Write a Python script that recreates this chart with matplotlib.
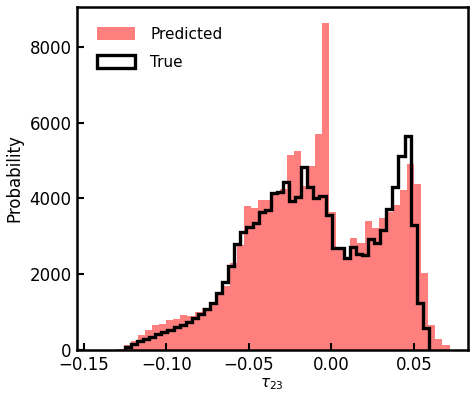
import numpy as np
import matplotlib
matplotlib.use('Agg')
import matplotlib.pyplot as plt

# predicted histogram: 47 bins from -0.130 to 0.0715
pred_range = (-0.1300, 0.0715)
pred_counts = [30, 140, 240, 396, 528, 660, 690, 790, 810, 920,
               900, 1000, 1100, 1250, 1450, 1680, 2290, 2780, 3800, 3750,
               3950, 3960, 4150, 4250, 5150, 5250, 4340, 4860, 5700, 8630,
               3650, 2650, 2400, 2950, 2830, 3400, 3230, 3480, 3650, 3830,
               4220, 4910, 4370, 2025, 660, 290, 140]

# true histogram: 50 bins from -0.125 to 0.059
true_range = (-0.1250, 0.0590)
true_counts = [80, 158, 230, 290, 343, 414, 475, 528, 610, 660,
               730, 836, 941, 1073, 1232, 1495, 1800, 2217, 2790, 3122,
               3254, 3360, 3650, 3695, 4135, 4160, 4425, 3940, 4030, 4820,
               4300, 4000, 4060, 3563, 2690, 2690, 2430, 2730, 2525, 2507,
               2930, 2815, 3167, 3720, 4290, 5130, 5640, 3310, 1250, 573]

pred_edges = np.linspace(pred_range[0], pred_range[1], len(pred_counts) + 1)
true_edges = np.linspace(true_range[0], true_range[1], len(true_counts) + 1)

plt.rcParams['font.size'] = 12
fig = plt.figure(figsize=(4.75, 4.03), dpi=100)
ax = fig.add_axes([0.162, 0.1315, 0.823, 0.8515])

ax.hist(pred_edges[:-1], bins=pred_edges, weights=pred_counts,
        color='red', alpha=0.5, label='Predicted')
ax.hist(true_edges[:-1], bins=true_edges, weights=true_counts,
        histtype='step', color='black', lw=2.4, label='True')

ax.set_xlim(-0.154, 0.0826)
ax.set_ylim(0, 9058)
ax.set_xticks([-0.15, -0.10, -0.05, 0.00, 0.05])
ax.set_yticks([0, 2000, 4000, 6000, 8000])
ax.tick_params(direction='in', length=5, width=1.5, labelsize=12, pad=4)
for s in ax.spines.values():
    s.set_linewidth(1.8)

ax.set_xlabel(r'$\tau_{23}$', fontsize=11, labelpad=2)
ax.set_ylabel('Probability', fontsize=12)
ax.legend(loc='upper left', frameon=False, fontsize=11,
          handlelength=2.5, handleheight=0.9, handletextpad=1.0,
          labelspacing=0.85, borderaxespad=0.9)

plt.savefig('out.png')
